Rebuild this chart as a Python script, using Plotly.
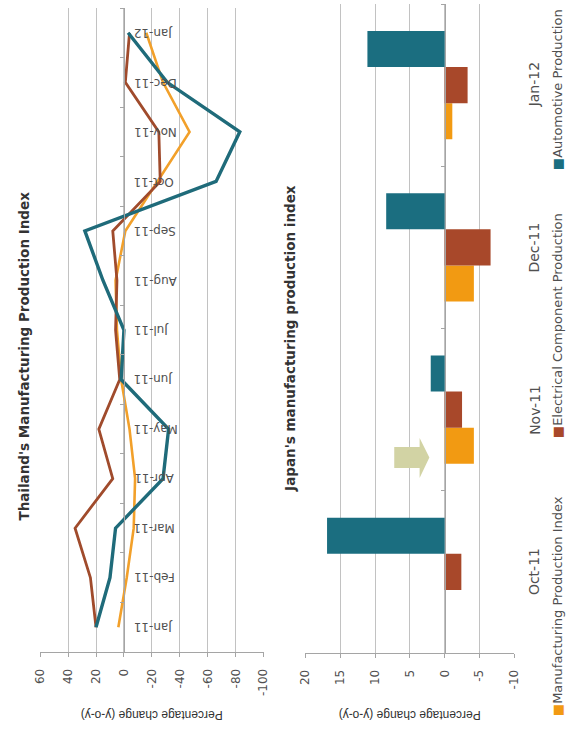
import plotly.graph_objects as go

# ---- Thailand: monthly y-o-y change (%) ----
months = ["Jan-11", "Feb-11", "Mar-11", "Apr-11", "May-11", "Jun-11", "Jul-11",
          "Aug-11", "Sep-11", "Oct-11", "Nov-11", "Dec-11", "Jan-12"]
th_manufacturing = [4, -2, -7, -8, -4, 2, 5, 6, -1, -24, -47, -28, -16]
th_electrical = [20, 24, 35, 8, 18, 3, 6, 5, 8, -26, -25, -1, -4]
th_automotive = [20, 10, 6, -28, -32, 2, 0, 15, 28, -66, -83, -31, -3]
th_ticks = [60, 40, 20, 0, -20, -40, -60, -80, -100]

# ---- Japan: y-o-y change (%) ----
jp_months = ["Oct-11", "Nov-11", "Dec-11", "Jan-12"]
jp_manufacturing = [None, -4.2, -4.2, -1.1]
jp_electrical = [-2.4, -2.5, -6.6, -3.3]
jp_automotive = [16.9, 2.0, 8.4, 11.1]
jp_ticks = [20, 15, 10, 5, 0, -5, -10]

series_names = ["Manufacturing Production Index",
                "Electrical Component Production",
                "Automotive Production"]

W, H = 570, 735
C_ORANGE = "#f2a02a"
C_BROWN = "#a04b2c"
C_TEAL = "#1f6b7a"
BAR_ORANGE = "#f29a12"
BAR_BROWN = "#a8482a"
BAR_TEAL = "#1b6e80"
GRID = "#c2c2c2"
AXIS = "#a5a5a5"
TXT = "#505050"
FONT = "DejaVu Sans"

th_xdom = [34 / W, 263 / W]
th_ydom = [1 - 652 / H, 1 - 8 / H]
jp_xdom = [306 / W, 520 / W]
jp_ydom = [1 - 653 / H, 1 - 4 / H]
th_range = [max(th_ticks), min(th_ticks)]
jp_range = [max(jp_ticks), min(jp_ticks)]


def zero_pos(dom, rng):
    # paper position of value 0 on a reversed value axis
    return dom[0] + (rng[0] - 0) / (rng[0] - rng[1]) * (dom[1] - dom[0])


fig = go.Figure()

# Thailand lines (values horizontal, months vertical)
for vals, col, w in [(th_manufacturing, C_ORANGE, 2.6),
                     (th_electrical, C_BROWN, 2.8),
                     (th_automotive, C_TEAL, 3.4)]:
    fig.add_trace(go.Scatter(x=vals, y=months, mode="lines",
                             line=dict(color=col, width=w),
                             xaxis="x", yaxis="y", showlegend=False))

# Japan grouped horizontal bars
for vals, col in [(jp_manufacturing, BAR_ORANGE),
                  (jp_electrical, BAR_BROWN),
                  (jp_automotive, BAR_TEAL)]:
    fig.add_trace(go.Bar(x=vals, y=jp_months, orientation="h",
                         marker=dict(color=col, line=dict(width=0)),
                         xaxis="x2", yaxis="y2", showlegend=False))

common_val = dict(tickangle=-90, showgrid=True, gridcolor=GRID, gridwidth=1,
                  showline=True, linecolor=AXIS, linewidth=1,
                  ticks="outside", ticklen=4, tickcolor=AXIS,
                  ticklabelstandoff=7,
                  zeroline=False, tickfont=dict(family=FONT, size=12, color=TXT))

fig.update_layout(
    width=W, height=H, margin=dict(l=0, r=0, t=0, b=0),
    paper_bgcolor="white", plot_bgcolor="rgba(0,0,0,0)",
    barmode="group", bargap=0.333, bargroupgap=0,
    xaxis=dict(domain=th_xdom, range=th_range, anchor="y",
               tickmode="array", tickvals=th_ticks,
               ticktext=[str(t) for t in th_ticks], **common_val),
    yaxis=dict(domain=th_ydom, type="category", categoryarray=months,
               range=[-0.5, len(months) - 0.5], anchor="free",
               position=zero_pos(th_xdom, th_range),
               showline=True, linecolor=AXIS, linewidth=1,
               ticks="outside", ticklen=4, tickcolor=AXIS, tickson="boundaries",
               showticklabels=False, showgrid=False, zeroline=False),
    xaxis2=dict(domain=jp_xdom, range=jp_range, anchor="y2",
                tickmode="array", tickvals=jp_ticks,
                ticktext=[str(t) for t in jp_ticks], **common_val),
    yaxis2=dict(domain=jp_ydom, type="category", categoryarray=jp_months,
                range=[-0.5, len(jp_months) - 0.5], anchor="free",
                position=zero_pos(jp_xdom, jp_range),
                showline=True, linecolor=AXIS, linewidth=1,
                ticks="outside", ticklen=4, tickcolor=AXIS, tickson="boundaries",
                showticklabels=False, showgrid=False, zeroline=False),
)

ann = []
# Month labels beside the zero line (upside down)
for m in months:
    ann.append(dict(x=0, y=m, xref="x", yref="y", text=m, showarrow=False,
                    textangle=180, xanchor="left", yanchor="middle", xshift=8,
                    font=dict(family=FONT, size=12, color=TXT)))
# Japan category labels at the far edge
for m in jp_months:
    ann.append(dict(x=1, y=m, xref="x2 domain", yref="y2", text=m, showarrow=False,
                    textangle=-90, xanchor="left", yanchor="middle", xshift=10,
                    font=dict(family=FONT, size=14, color=TXT)))
# Chart titles
ann.append(dict(x=17 / W, y=1 - 356 / H, xref="paper", yref="paper",
                text="<b>Thailand's Manufacturing Production Index</b>",
                showarrow=False, textangle=-90, xanchor="center", yanchor="middle",
                font=dict(family=FONT, size=13.5, color="#333333")))
ann.append(dict(x=290 / W, y=1 - 338 / H, xref="paper", yref="paper",
                text="<b>Japan's manufacturing production index</b>",
                showarrow=False, textangle=-90, xanchor="center", yanchor="middle",
                font=dict(family=FONT, size=13.5, color="#333333")))
# Value-axis titles (upside down)
for xr in ["x domain", "x2 domain"]:
    ann.append(dict(x=0.5, y=1 - 715 / H, xref=xr, yref="paper",
                    text="Percentage change (y-o-y)", showarrow=False,
                    textangle=180, xanchor="center", yanchor="middle",
                    font=dict(family="Liberation Sans", size=12, color="#333333")))
# Legend entries
for name, col, yc in [(series_names[0], BAR_ORANGE, 606),
                      (series_names[1], BAR_BROWN, 326),
                      (series_names[2], BAR_TEAL, 90)]:
    ann.append(dict(x=564 / W, y=1 - yc / H, xref="paper", yref="paper",
                    text=f'<span style="color:{col}">■</span>{name}',
                    showarrow=False, textangle=-90, xanchor="center", yanchor="middle",
                    font=dict(family=FONT, size=13, color=TXT)))
fig.update_layout(annotations=ann)

# Block arrow between the Japan bars
ax0, ax1, ax2 = 397 / W, 423 / W, 433 / W
ay_b0, ay_b1 = 1 - 447 / H, 1 - 468 / H
ay_h0, ay_h1 = 1 - 438 / H, 1 - 478 / H
aym = (ay_b0 + ay_b1) / 2
fig.add_shape(type="path", xref="paper", yref="paper",
              path=(f"M {ax0} {ay_b0} L {ax1} {ay_b0} L {ax1} {ay_h0} L {ax2} {aym} "
                    f"L {ax1} {ay_h1} L {ax1} {ay_b1} L {ax0} {ay_b1} Z"),
              fillcolor="#d2d3a4", line=dict(width=0), layer="above")

fig.write_html("out.html")
